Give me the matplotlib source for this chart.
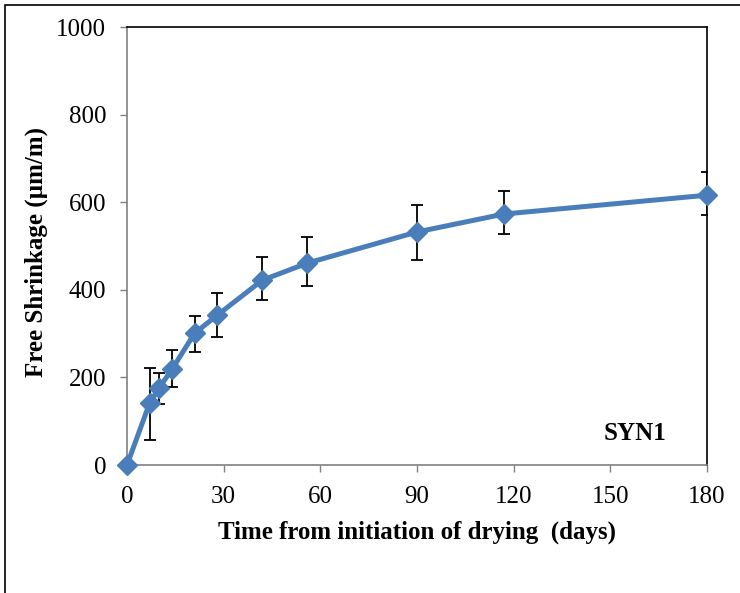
#! usr/bin/env python3

import matplotlib
matplotlib.use('Agg')
import matplotlib.pyplot as plt
from matplotlib.patches import Rectangle

# data
days = [0, 7, 10, 14, 21, 28, 42, 56, 90, 117, 180]
shrinkage = [0, 141, 176, 219, 301, 342, 422, 461, 532, 573, 616]
err_low = [0, 84, 37, 41, 43, 50, 45, 52, 64, 46, 45]
err_high = [0, 80, 34, 44, 39, 51, 53, 60, 62, 53, 53]
x_ticks = [0, 30, 60, 90, 120, 150, 180]
y_ticks = [0, 200, 400, 600, 800, 1000]

plt.rcParams['font.family'] = ['Liberation Serif', 'DejaVu Serif']

fig = plt.figure(figsize=(7.4, 5.93), dpi=100)
ax = fig.add_axes([127 / 740, 1 - 465 / 593, 580 / 740, 438 / 593])

# outer frame around the chart area
fig.patches.append(Rectangle((5 / 740, -0.1), 1.1, 1 - 5 / 593 + 0.1,
                             transform=fig.transFigure, fill=False,
                             edgecolor='black', linewidth=1.2))

line_color = '#4A7EBB'
ax.errorbar(days, shrinkage, yerr=[err_low, err_high], fmt='none',
            ecolor='black', elinewidth=1.3, capsize=4, capthick=1.3, zorder=2)
ax.plot(days, shrinkage, color=line_color, linewidth=3.6, marker='D',
        markersize=10.5, markerfacecolor=line_color, markeredgecolor=line_color,
        zorder=3, clip_on=False)

ax.set_xlim(0, 180)
ax.set_ylim(0, 1000)
ax.set_xticks(x_ticks)
ax.set_yticks(y_ticks)
ax.tick_params(axis='both', direction='out', length=5, width=1,
               color='#808080', labelsize=18)
ax.tick_params(axis='x', pad=10)
ax.tick_params(axis='y', pad=10)

for side in ['left', 'bottom']:
    ax.spines[side].set_color('#808080')
    ax.spines[side].set_linewidth(1.2)
for side in ['top', 'right']:
    ax.spines[side].set_color('black')
    ax.spines[side].set_linewidth(1.2)

ax.set_xlabel("Time from initiation of drying  (days)", fontsize=18,
              fontweight='bold')
ax.set_ylabel("Free Shrinkage (\u00b5m/m)", fontsize=18, fontweight='bold')
ax.xaxis.set_label_coords(0.5, -0.128)
ax.yaxis.set_label_coords(-0.137, 0.487)
ax.text(0.876, 0.073, "SYN1", transform=ax.transAxes, fontsize=18,
        fontweight='bold', ha='center', va='center')

fig.savefig('out.png', dpi=100)
